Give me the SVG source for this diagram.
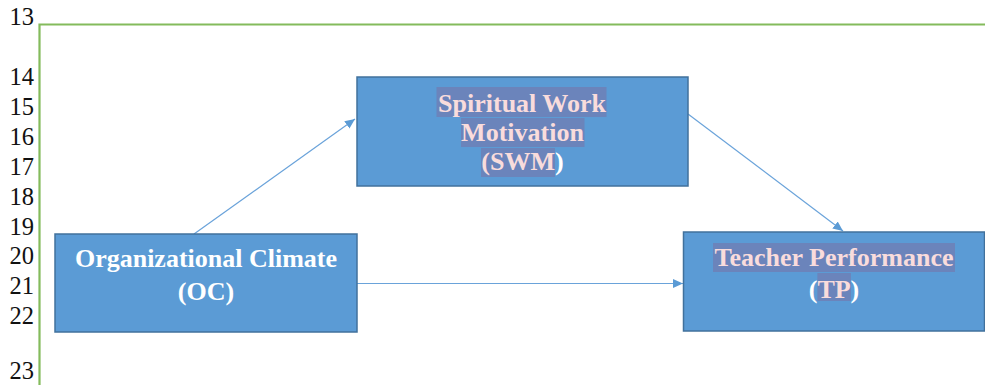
<svg xmlns="http://www.w3.org/2000/svg" width="985" height="385" viewBox="0 0 985 385">
<style>
.num{font-family:"Liberation Serif","Times New Roman",serif;font-size:24.5px;fill:#111;text-anchor:end}
.box{fill:#5b9bd5;stroke:#41719c;stroke-width:1.5}
.lbl{font-family:"Liberation Serif","Times New Roman",serif;font-size:26px;font-weight:bold;fill:#ffffff;text-anchor:middle}
.pk{fill:#f9dcdc}
.hl{fill:#6b84bb}
.conn{stroke:#6aa3da;stroke-width:1.2;fill:none}
.frame{stroke:#84bb5c;stroke-width:2.2;fill:none}
</style>
<defs>
<marker id="arr" viewBox="0 0 10 10" refX="10" refY="5" markerWidth="10" markerHeight="10" markerUnits="userSpaceOnUse" orient="auto">
<path d="M0,0.5 L10,5 L0,9.5 z" fill="#5b9bd5"/>
</marker>
</defs>
<g id="line-numbers">
<text class="num" x="34" y="25">13</text>
<text class="num" x="34" y="85">14</text>
<text class="num" x="34" y="115">15</text>
<text class="num" x="34" y="145">16</text>
<text class="num" x="34" y="175">17</text>
<text class="num" x="34" y="205">18</text>
<text class="num" x="34" y="235">19</text>
<text class="num" x="34" y="264">20</text>
<text class="num" x="34" y="294">21</text>
<text class="num" x="34" y="324">22</text>
<text class="num" x="34" y="379">23</text>
</g>
<path class="frame" d="M39.5,385 V24.5 H985"/>
<g id="connectors">
<line class="conn" x1="194" y1="234" x2="355" y2="119" marker-end="url(#arr)"/>
<line class="conn" x1="688" y1="114" x2="843" y2="231" marker-end="url(#arr)"/>
<line class="conn" x1="357" y1="283.5" x2="683" y2="283.5" marker-end="url(#arr)"/>
</g>
<g id="node-swm">
<rect class="box" x="357" y="77" width="331" height="109"/>
<rect class="hl" x="436.5" y="87" width="170" height="30"/>
<rect class="hl" x="461" y="118" width="123.5" height="29"/>
<rect class="hl" x="481" y="148" width="74" height="29"/>
<text class="lbl" x="522" y="112"><tspan class="pk">Spiritual Work</tspan></text>
<text class="lbl" x="522.5" y="141"><tspan class="pk">Motivation</tspan></text>
<text class="lbl" x="522.5" y="170"><tspan class="pk">(SWM</tspan>)</text>
</g>
<g id="node-oc">
<rect class="box" x="55" y="234" width="302" height="98"/>
<text class="lbl" x="206" y="267">Organizational Climate</text>
<text class="lbl" x="206" y="300">(OC)</text>
</g>
<g id="node-tp">
<rect class="box" x="683.5" y="232" width="301" height="99"/>
<rect class="hl" x="713" y="243" width="242" height="29"/>
<rect class="hl" x="817.4" y="273" width="33.5" height="28"/>
<text class="lbl" x="834" y="266"><tspan class="pk">Teacher Performance</tspan></text>
<text class="lbl" x="834" y="298">(<tspan class="pk">TP</tspan>)</text>
</g>
</svg>
